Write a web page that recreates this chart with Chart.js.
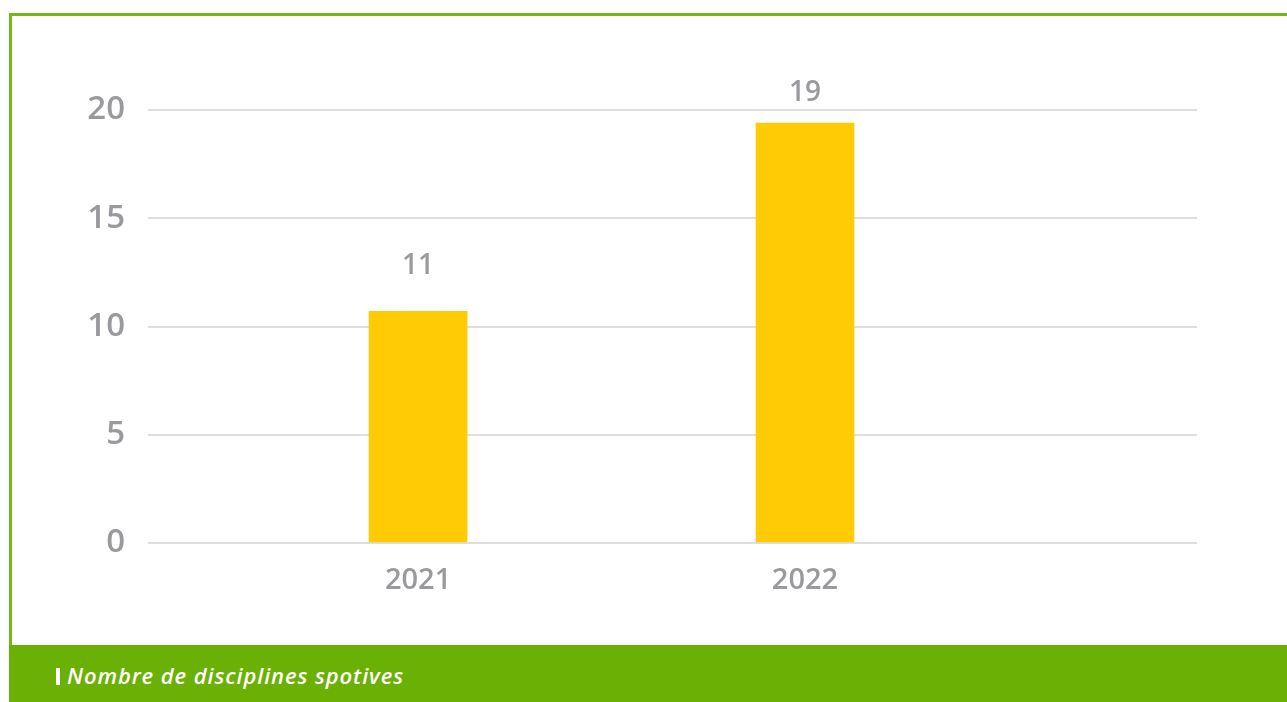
<!DOCTYPE html>
<html lang="fr">

<head>
  <meta charset="UTF-8">
  <title>Nombre de disciplines spotives</title>
  <script src="https://cdn.jsdelivr.net/npm/chart.js"></script>
  <style>
    body { margin: 0; background: #fff; width: 1287px; height: 702px; overflow: hidden; position: relative; font-family: "Open Sans", sans-serif; }
    .cadre { position: absolute; left: 9px; top: 13px; right: 0; height: 632px; border-top: 3px solid #74b816; border-left: 3px solid #74b816; box-sizing: border-box; }
    .pied { position: absolute; left: 9px; top: 645px; right: 0; bottom: 0; background: #6bb004; }
    .pied .barre { position: absolute; left: 47px; top: 23px; width: 4px; height: 17px; background: #fff; }
    .pied p { position: absolute; left: 58px; top: 18px; margin: 0; color: #fff; font-style: italic; font-weight: 600; font-size: 22px; letter-spacing: 0.9px; line-height: 24px; }
    #grafico { position: absolute; left: 0; top: 0; }
  </style>
</head>

<body>
  <div class="cadre"></div>
  <div class="pied">
    <div class="barre"></div>
    <p>Nombre de disciplines spotives</p>
  </div>
  <canvas id="grafico" width="1287" height="645"></canvas>
</body>
<script>
  // donnees
  const annees = [2021, 2022];
  const valeurs = [10.7, 19.4];
  const etiquettes = [11, 19];
  const ticksY = [0, 5, 10, 15, 20];

  const gris = '#9a9a9e';

  // ecrit le nombre au-dessus de chaque barre
  const pluginEtiquettes = {
    id: 'etiquettes',
    afterDatasetsDraw(chart) {
      const c = chart.ctx;
      const meta = chart.getDatasetMeta(0);
      const y = chart.scales.y;
      c.save();
      c.fillStyle = gris;
      c.font = '600 28px "Open Sans"';
      c.textAlign = 'center';
      c.textBaseline = 'middle';
      meta.data.forEach((barre, i) => {
        c.fillText(String(etiquettes[i]), barre.x, y.getPixelForValue(etiquettes[i]) - 39);
      });
      c.restore();
    }
  };

  const ctx = document.getElementById('grafico').getContext('2d');
  let grafico = new Chart(ctx, {
    type: 'bar',
    data: {
      datasets: [{
        label: 'Nombre de disciplines',
        data: annees.map((a, i) => ({ x: a, y: valeurs[i] })),
        backgroundColor: '#ffcb04',
        barThickness: 98
      }]
    },
    options: {
      responsive: false,
      animation: false,
      layout: { padding: { top: 110, right: 90, left: 0, bottom: 0 } },
      plugins: {
        legend: { display: false },
        tooltip: { enabled: false }
      },
      scales: {
        x: {
          type: 'linear',
          offset: false,
          min: 2020.302,
          max: 2023.013,
          grid: { display: false, offset: false },
          border: { display: false },
          afterBuildTicks: (s) => { s.ticks = annees.map(v => ({ value: v })); },
          afterFit: (s) => { s.height = 102; },
          ticks: {
            color: gris,
            font: { family: 'Open Sans', size: 29, weight: '600' },
            padding: 12,
            maxRotation: 0,
            callback: (v) => String(v)
          }
        },
        y: {
          min: 0,
          max: 20,
          afterBuildTicks: (s) => { s.ticks = ticksY.map(v => ({ value: v })); },
          afterFit: (s) => { s.width = 148; },
          grid: { color: '#dedede', lineWidth: 2, drawTicks: false },
          border: { display: false },
          ticks: {
            color: gris,
            font: { family: 'Open Sans', size: 33, weight: '600' },
            padding: 23
          }
        }
      }
    },
    plugins: [pluginEtiquettes]
  });
</script>

</html>
